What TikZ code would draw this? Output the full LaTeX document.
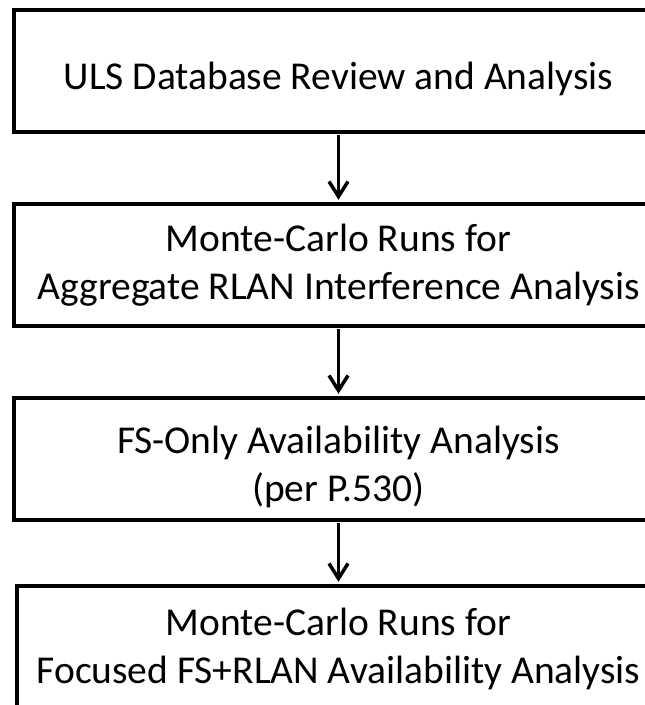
\documentclass[tikz,border=0pt]{standalone}
\usepackage{fontspec}
\setmainfont{Carlito}
\usetikzlibrary{arrows.meta, positioning}

\begin{document}
\begin{tikzpicture}[x=1pt, y=1pt,
    stage/.style={rectangle, draw=black, line width=4pt, inner sep=0pt,
                  minimum width=649pt, minimum height=122pt},
    stagetext/.style={align=center, font=\fontsize{39.5}{48}\selectfont, inner sep=0pt},
    arr/.style={-{Straight Barb[length=15pt, width=19pt]}, line width=3.5pt,
                shorten >=2.5pt, shorten <=1pt},
  ]
  \useasboundingbox (0,0) rectangle (645,-705);
  \clip (0,0) rectangle (645,-705);
  % boxes
  \node[stage, minimum height=121.5pt] (uls) at (338.5,-71) {};
  \node[stage, below=68.5pt of uls] (mcagg) {};
  \node[stage, below=68pt of mcagg] (fsonly) {};
  \node[stage, below=62pt of fsonly, minimum width=643pt, minimum height=126pt] (mcfocus) {};
  % texts
  \node[stagetext, yshift=-8pt] (ulstxt) at (uls) {ULS Database Review and Analysis};
  \node[stagetext] (mcaggtxt) at (mcagg) {Monte-Carlo Runs for\\Aggregate RLAN Interference Analysis};
  \node[stagetext, yshift=-8pt] (fsonlytxt) at (fsonly) {FS-Only Availability Analysis\\(per P.530)};
  \node[stagetext] (mcfocustxt) at (mcfocus) {Monte-Carlo Runs for\\Focused FS+RLAN Availability Analysis};
  \draw[arr] (uls) -- (mcagg);
  \draw[arr] (mcagg) -- (fsonly);
  \draw[arr] (fsonly) -- (mcfocus);
\end{tikzpicture}
\end{document}
